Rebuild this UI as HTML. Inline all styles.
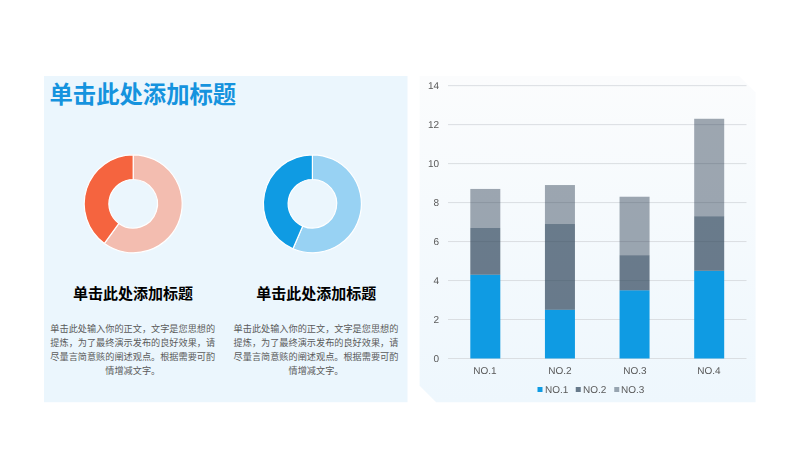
<!DOCTYPE html>
<html lang="zh-CN">
<head>
<meta charset="utf-8">
<title>单击此处添加标题</title>
<style>
html,body{margin:0;padding:0;background:#fff;}
body{width:800px;height:450px;position:relative;overflow:hidden;font-family:"Liberation Sans","Noto Sans CJK SC",sans-serif;}
svg{position:absolute;left:0;top:0;display:block;}
.yl,.xl,.lg{position:absolute;text-rendering:geometricPrecision;will-change:transform;font-size:10px;line-height:12px;height:12px;color:#595959;white-space:nowrap;}
.yl{left:398.7px;width:40px;text-align:right;}
.xl{top:366.25px;width:60px;text-align:center;}
.lg{top:384.5px;}
.tx{position:absolute;margin:0;padding:0;font-weight:bold;color:#000;white-space:nowrap;font-family:"Liberation Sans","Noto Sans CJK SC",sans-serif;}
p.tx{font-weight:normal;}
</style>
</head>
<body>
<svg width="800" height="450" viewBox="0 0 800 450" aria-hidden="true">
<defs><linearGradient id="rg" x1="0" y1="0" x2="0" y2="1"><stop offset="0" stop-color="#fbfcfd"/><stop offset="1" stop-color="#eef7fd"/></linearGradient></defs>
<rect x="44" y="76" width="363.5" height="326.2" fill="#ebf6fd"/>
<path d="M419.6 76L739.1 76L755.6 92.5L755.6 402.2L436.1 402.2L419.6 385.7Z" fill="url(#rg)"/>
<path d="M133.20 154.80A49.00 49.00 0 1 1 104.40 243.44L118.92 223.46A24.30 24.30 0 1 0 133.20 179.50Z" fill="#f3bdb0" stroke="#fff" stroke-width="1.20" stroke-linejoin="round"/><path d="M104.40 243.44A49.00 49.00 0 0 1 133.20 154.80L133.20 179.50A24.30 24.30 0 0 0 118.92 223.46Z" fill="#f5643f" stroke="#fff" stroke-width="1.20" stroke-linejoin="round"/>
<path d="M312.40 154.80A49.00 49.00 0 1 1 292.94 248.77L302.75 226.10A24.30 24.30 0 1 0 312.40 179.50Z" fill="#98d2f3" stroke="#fff" stroke-width="1.20" stroke-linejoin="round"/><path d="M292.94 248.77A49.00 49.00 0 0 1 312.40 154.80L312.40 179.50A24.30 24.30 0 0 0 302.75 226.10Z" fill="#0f9be3" stroke="#fff" stroke-width="1.20" stroke-linejoin="round"/>
<rect x="448.00" y="358.00" width="298.50" height="1.00" fill="#dadee2"/>
<rect x="448.00" y="319.02" width="298.50" height="1.00" fill="#dadee2"/>
<rect x="448.00" y="280.04" width="298.50" height="1.00" fill="#dadee2"/>
<rect x="448.00" y="241.06" width="298.50" height="1.00" fill="#dadee2"/>
<rect x="448.00" y="202.08" width="298.50" height="1.00" fill="#dadee2"/>
<rect x="448.00" y="163.10" width="298.50" height="1.00" fill="#dadee2"/>
<rect x="448.00" y="124.12" width="298.50" height="1.00" fill="#dadee2"/>
<rect x="448.00" y="85.14" width="298.50" height="1.00" fill="#dadee2"/>
<rect x="470.31" y="274.69" width="30.00" height="83.81" fill="#0f9be3"/>
<rect x="470.31" y="227.92" width="30.00" height="46.78" fill="rgba(46,68,90,0.7)"/>
<rect x="470.31" y="188.94" width="30.00" height="38.98" fill="rgba(44,63,82,0.45)"/>
<rect x="544.94" y="309.77" width="30.00" height="48.72" fill="#0f9be3"/>
<rect x="544.94" y="224.02" width="30.00" height="85.76" fill="rgba(46,68,90,0.7)"/>
<rect x="544.94" y="185.04" width="30.00" height="38.98" fill="rgba(44,63,82,0.45)"/>
<rect x="619.56" y="290.29" width="30.00" height="68.21" fill="#0f9be3"/>
<rect x="619.56" y="255.20" width="30.00" height="35.08" fill="rgba(46,68,90,0.7)"/>
<rect x="619.56" y="196.73" width="30.00" height="58.47" fill="rgba(44,63,82,0.45)"/>
<rect x="694.19" y="270.80" width="30.00" height="87.70" fill="#0f9be3"/>
<rect x="694.19" y="216.22" width="30.00" height="54.57" fill="rgba(46,68,90,0.7)"/>
<rect x="694.19" y="118.77" width="30.00" height="97.45" fill="rgba(44,63,82,0.45)"/>
<rect x="537.50" y="387.00" width="5.00" height="5.00" fill="#0f9be3"/>
<rect x="575.75" y="387.00" width="5.00" height="5.00" fill="rgba(46,68,90,0.7)"/>
<rect x="614.25" y="387.00" width="5.00" height="5.00" fill="rgba(44,63,82,0.45)"/>
</svg>
<h1 class="tx" style="left:49.50px;top:80.88px;width:188.64px;font-size:23.33px;line-height:28px;text-align:left;color:#1593de">单击此处添加标题</h1>
<h2 class="tx" style="left:72.00px;top:285.43px;width:122.00px;font-size:15px;line-height:18px;text-align:center;color:#000000">单击此处添加标题</h2>
<h2 class="tx" style="left:255.25px;top:285.43px;width:122.00px;font-size:15px;line-height:18px;text-align:center;color:#000000">单击此处添加标题</h2>
<p class="tx" style="left:49.72px;top:321.54px;width:166.06px;font-size:9.17px;line-height:14.17px;text-align:center;color:#5a5a5a">单击此处输入你的正文，文字是您思想的<br>提炼，为了最终演示发布的良好效果，请<br>尽量言简意赅的阐述观点。根据需要可酌<br>情增减文字。</p>
<p class="tx" style="left:232.97px;top:321.54px;width:166.06px;font-size:9.17px;line-height:14.17px;text-align:center;color:#5a5a5a">单击此处输入你的正文，文字是您思想的<br>提炼，为了最终演示发布的良好效果，请<br>尽量言简意赅的阐述观点。根据需要可酌<br>情增减文字。</p>
<div class="yl" style="top:353.50px">0</div>
<div class="yl" style="top:314.52px">2</div>
<div class="yl" style="top:275.54px">4</div>
<div class="yl" style="top:236.56px">6</div>
<div class="yl" style="top:197.58px">8</div>
<div class="yl" style="top:158.60px">10</div>
<div class="yl" style="top:119.62px">12</div>
<div class="yl" style="top:80.64px">14</div>
<div class="xl" style="left:455.31px">NO.1</div>
<div class="xl" style="left:529.94px">NO.2</div>
<div class="xl" style="left:604.56px">NO.3</div>
<div class="xl" style="left:679.19px">NO.4</div>
<div class="lg" style="left:544.50px">NO.1</div>
<div class="lg" style="left:582.75px">NO.2</div>
<div class="lg" style="left:621.25px">NO.3</div>
</body>
</html>
